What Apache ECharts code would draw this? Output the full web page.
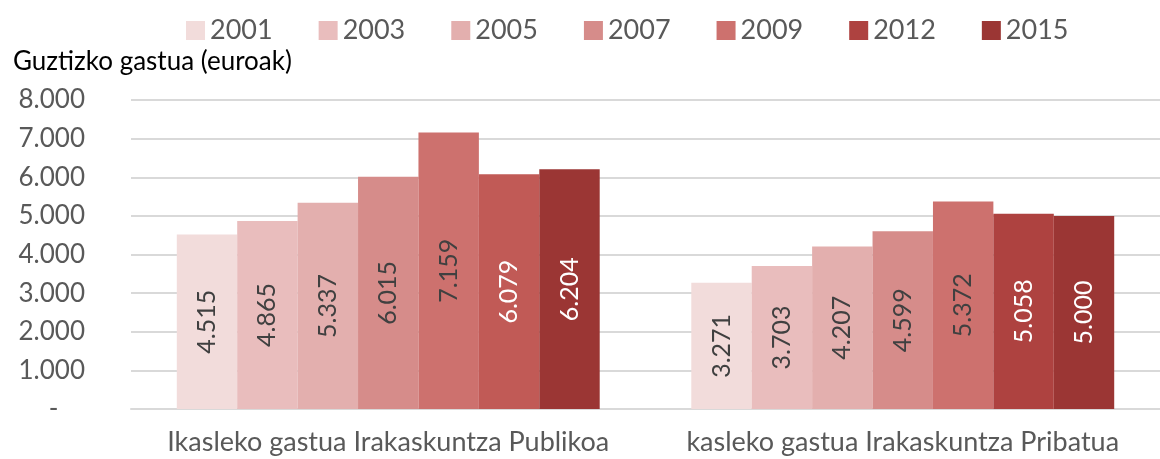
<!DOCTYPE html>
<html>
<head>
<meta charset="utf-8">
<script src="https://cdn.jsdelivr.net/npm/echarts@6/dist/echarts.min.js"></script>
<style>
  html, body { margin: 0; padding: 0; background: #fff; }
  #chart { width: 1160px; height: 459px; }
</style>
</head>
<body>
<div id="chart"></div>
<script>
// datuak
let categories = ['Ikasleko gastua Irakaskuntza Publikoa', 'kasleko gastua Irakaskuntza Pribatua']
let years = ['2001', '2003', '2005', '2007', '2009', '2012', '2015']
let v2001 = [4515, 3271]
let v2003 = [4865, 3703]
let v2005 = [5337, 4207]
let v2007 = [6015, 4599]
let v2009 = [7159, 5372]
let v2012 = [6079, 5058]
let v2015 = [6204, 5000]
let yTicks = [0, 1000, 2000, 3000, 4000, 5000, 6000, 7000, 8000]

let colors = ['#F2DCDB', '#E9BDBD', '#E3AFAE', '#D68C8A', '#CD716E', '#AE4240', '#9B3634']
let labelColors = ['#404040', '#404040', '#404040', '#404040', '#404040', '#ffffff', '#ffffff']
let values = [v2001, v2003, v2005, v2007, v2009, v2012, v2015]

var chart = echarts.init(document.getElementById('chart'))

function fmt(v) {
  if (v === 0) return '-    '
  return String(v).replace(/\B(?=(\d{3})+(?!\d))/g, '.')
}

let series = years.map((y, i) => {
  return {
    name: y,
    type: 'bar',
    barGap: '0%',
    barCategoryGap: '17.8%',
    data: values[i].map((v, j) => {
      // 2012 barra lehen taldean argiagoa da
      if (i === 5 && j === 0) return { value: v, itemStyle: { color: '#C15A56' } }
      return v
    }),
    itemStyle: { color: colors[i] },
    label: {
      show: true,
      position: 'inside',
      rotate: 90,
      color: labelColors[i],
      fontFamily: 'Lato',
      fontSize: 25,
      formatter: p => fmt(p.value)
    }
  }
})

chart.setOption({
  animation: false,
  title: {
    text: 'Guztizko gastua (euroak)',
    left: 8,
    top: 44,
    textStyle: { fontFamily: 'Lato', fontSize: 26, fontWeight: 'normal', color: '#000' }
  },
  legend: {
    data: years,
    top: 12,
    left: 181,
    itemWidth: 19,
    itemHeight: 19,
    itemGap: 46,
    icon: 'rect',
    textStyle: { fontFamily: 'Lato', fontSize: 27, color: '#595959' }
  },
  grid: { left: 131, top: 100, width: 1036, height: 309, containLabel: false },
  xAxis: {
    type: 'category',
    data: categories,
    axisTick: { show: false },
    axisLine: { lineStyle: { color: '#d9d9d9', width: 2 } },
    axisLabel: { interval: 0, hideOverlap: false, fontFamily: 'Lato', fontSize: 27, color: '#595959', margin: 20 }
  },
  yAxis: {
    type: 'value',
    min: yTicks[0],
    max: yTicks[yTicks.length - 1],
    interval: 1000,
    axisLine: { show: false },
    axisTick: { show: false },
    splitLine: { lineStyle: { color: '#d9d9d9', width: 2 } },
    axisLabel: { fontFamily: 'Lato', fontSize: 26, color: '#595959', margin: 46, formatter: fmt }
  },
  series: series
})
</script>
</body>
</html>
